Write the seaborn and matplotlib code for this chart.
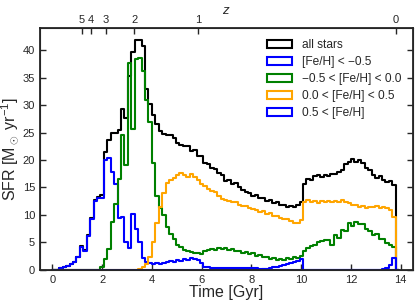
import numpy as np
import pandas as pd
import seaborn as sns
import matplotlib
matplotlib.use("Agg")
import matplotlib.pyplot as plt
from matplotlib.patches import Patch

# star formation history, 100 bins of 0.138 Gyr (0 - 13.8 Gyr) + one empty bin
bin_width = 0.138

all_stars = [
    0, 0.05, 0.3, 0.5, 0.8, 1.1, 1.5, 2.4, 4.3, 3.6,
    6.4, 9.5, 12.8, 13.2, 13.6, 21.5, 23.6, 24.9, 24.9, 25.4,
    29.2, 27.7, 35.3, 39.7, 41.8, 41.8, 40.8, 33.0, 30.2, 28.2,
    26.5, 25.3, 24.8, 24.5, 24.6, 24.0, 23.0, 22.7, 22.5, 22.6,
    21.6, 21.8, 20.7, 20.8, 19.5, 19.2, 18.6, 18.4, 17.6, 17.2,
    16.2, 16.3, 15.7, 15.8, 15.0, 14.6, 14.2, 14.0, 13.4, 13.6,
    13.0, 13.1, 12.6, 12.7, 12.2, 12.4, 11.8, 11.9, 11.4, 11.7,
    11.5, 11.9, 12.4, 15.7, 16.6, 16.4, 17.1, 17.3, 16.9, 17.3,
    17.1, 17.4, 17.4, 17.8, 18.2, 19.3, 19.6, 20.2, 19.7, 20.0,
    19.4, 18.6, 18.2, 17.2, 16.8, 17.0, 16.3, 16.0, 16.2, 15.5,
    0,
]

feh_low = [
    0, 0.05, 0.3, 0.5, 0.8, 1.0, 1.4, 2.3, 4.1, 3.4,
    6.2, 9.2, 12.6, 13.0, 13.1, 20.0, 20.4, 17.9, 15.7, 9.4,
    9.6, 5.1, 3.9, 10.2, 7.5, 5.1, 2.1, 1.5, 1.3, 1.1,
    1.2, 1.1, 1.3, 1.4, 1.6, 1.5, 1.8, 1.7, 2.0, 1.8,
    2.1, 1.9, 1.8, 1.3, 0.6, 0.45, 0.35, 0.3, 0.3, 0.3,
    0.3, 0.3, 0.3, 0.3, 0.3, 0.3, 0.3, 0.3, 0.3, 0.3,
    0.25, 0.2, 0.1, 0.05, 0.02, 0, 0, 0, 0, 0,
    0, 0, 0, 0, 0, 0, 0, 0, 0, 0,
    0, 0, 0, 0, 0, 0, 0, 0, 0, 0,
    0, 0, 0, 0, 0, 0, 0, 0, 0, 0,
    0,
]

feh_mid = [
    0, 0, 0, 0, 0, 0, 0, 0, 0, 0,
    0, 0, 0, 0, 0.5, 2.0, 3.8, 8.8, 12.0, 16.5,
    24.5, 19.1, 37.6, 25.7, 38.3, 38.6, 36.2, 31.0, 27.0, 19.5,
    13.5, 11.2, 10.0, 7.8, 6.6, 5.6, 4.6, 4.2, 3.7, 3.5,
    3.3, 3.1, 3.0, 2.9, 3.4, 3.6, 3.8, 3.7, 4.0, 3.8,
    3.9, 3.6, 3.8, 3.4, 3.5, 3.1, 3.3, 2.9, 3.0, 2.6,
    2.7, 2.3, 2.4, 2.0, 2.2, 1.8, 2.0, 1.8, 2.1, 1.9,
    2.3, 2.2, 2.6, 3.5, 3.9, 4.4, 4.6, 5.0, 5.2, 5.4,
    5.5, 4.6, 6.3, 5.8, 7.3, 7.0, 8.6, 8.0, 8.8, 8.3,
    8.4, 7.4, 7.0, 6.4, 6.5, 5.7, 5.6, 4.9, 4.6, 4.1,
    0,
]

feh_solar = [
    0, 0, 0, 0, 0, 0, 0, 0, 0, 0,
    0, 0, 0, 0, 0, 0, 0, 0, 0, 0,
    0, 0, 0, 0, 0, 0.1, 0.5, 1.1, 2.3, 5.0,
    8.5, 11.5, 14.0, 15.8, 16.3, 16.8, 17.2, 17.7, 17.3, 16.9,
    17.4, 16.9, 16.3, 15.7, 15.2, 14.8, 14.3, 14.1, 13.5, 12.9,
    12.7, 12.6, 12.3, 12.4, 11.9, 11.6, 11.7, 11.2, 11.0, 10.9,
    10.6, 10.7, 10.2, 10.3, 9.9, 9.8, 9.5, 9.3, 9.3, 8.9,
    8.6, 8.5, 9.0, 12.3, 12.7, 12.4, 12.6, 12.2, 12.6, 12.3,
    12.5, 12.3, 12.6, 12.4, 12.7, 12.3, 12.1, 11.9, 11.8, 11.5,
    11.6, 11.3, 11.5, 11.4, 11.6, 11.3, 11.5, 11.2, 10.9, 9.7,
    0,
]

feh_high = [
    0, 0, 0, 0, 0, 0, 0, 0, 0, 0,
    0, 0, 0, 0, 0, 0, 0, 0, 0, 0,
    0, 0, 0, 0, 0, 0, 0, 0, 0, 0,
    0, 0, 0, 0, 0, 0, 0, 0, 0, 0,
    0, 0, 0, 0, 0, 0, 0, 0, 0, 0,
    0, 0, 0, 0, 0, 0, 0, 0, 0, 0,
    0.05, 0.1, 0.25, 0.35, 0.45, 0.55, 0.7, 0.85, 1.0, 1.2,
    1.4, 1.7, 2.0, 0, 0, 0, 0, 0, 0, 0,
    0, 0, 0, 0, 0, 0, 0, 0, 0, 0,
    0, 0, 0, 0, 0, 0.05, 0.2, 0.4, 0.9, 2.2,
    0,
]

labels = ["all stars", "[Fe/H] < \u22120.5", "\u22120.5 < [Fe/H] < 0.0",
          "0.0 < [Fe/H] < 0.5", "0.5 < [Fe/H]"]
colors = ["black", "blue", "green", "orange", "blue"]
redshifts = [0, 1, 2, 3, 4, 5]


def cosmic_time(z, h0=67.7, om=0.31):
    # age of a flat LCDM universe at redshift z, in Gyr
    ol = 1.0 - om
    th = 977.8 / h0
    return 2.0 / (3.0 * np.sqrt(ol)) * th * np.arcsinh(np.sqrt(ol / om) * (1.0 + np.asarray(z)) ** -1.5)


sns.set_style("ticks")
plt.rcParams["font.family"] = ["Liberation Sans", "DejaVu Sans"]
plt.rcParams["mathtext.fontset"] = "custom"
plt.rcParams["mathtext.rm"] = "Liberation Sans"
plt.rcParams["mathtext.it"] = "Liberation Sans:italic"

fig = plt.figure(figsize=(4.16, 3.05), dpi=100)
ax = fig.add_axes([0.096, 0.115, 0.897, 0.793])

series = [all_stars, feh_low, feh_mid, feh_solar, feh_high]
edges = list(np.arange(len(all_stars) + 1) * bin_width)
centers = np.arange(len(all_stars)) * bin_width + bin_width / 2

for vals, c in zip(series, colors):
    df = pd.DataFrame({"time": centers, "sfr": vals})
    sns.histplot(data=df, x="time", weights="sfr", bins=edges, element="step",
                 fill=False, color=c, linewidth=1.5, ax=ax)

ax.set_xlim(-0.5, 14.5)
ax.set_ylim(0, 44)
ax.set_xticks(range(0, 15, 2))
ax.set_yticks(range(0, 41, 5))
ax.tick_params(direction="in", labelsize=8, width=1, length=4, right=True, top=False)
ax.set_xlabel("Time [Gyr]", fontsize=11.5, labelpad=0)
ax.set_ylabel(r"SFR [M$_\odot$ yr$^{-1}$]", fontsize=11.5, labelpad=1)
for s in ax.spines.values():
    s.set_linewidth(1.3)

ax2 = ax.twiny()
ax2.set_xlim(ax.get_xlim())
ax2.set_xticks(cosmic_time(redshifts))
ax2.set_xticklabels([str(z) for z in redshifts])
ax2.tick_params(direction="in", labelsize=8, width=1, length=4, pad=2)
ax2.set_xlabel("$z$", fontsize=9.5, labelpad=1)

handles = [Patch(facecolor="none", edgecolor=c, linewidth=1.5) for c in colors]
ax.legend(handles, labels, loc="upper right", frameon=False, fontsize=8.6,
          handlelength=2.1, handleheight=0.6, handletextpad=0.85, labelspacing=0.42,
          borderaxespad=0.55)

fig.savefig("out.png", dpi=100)
